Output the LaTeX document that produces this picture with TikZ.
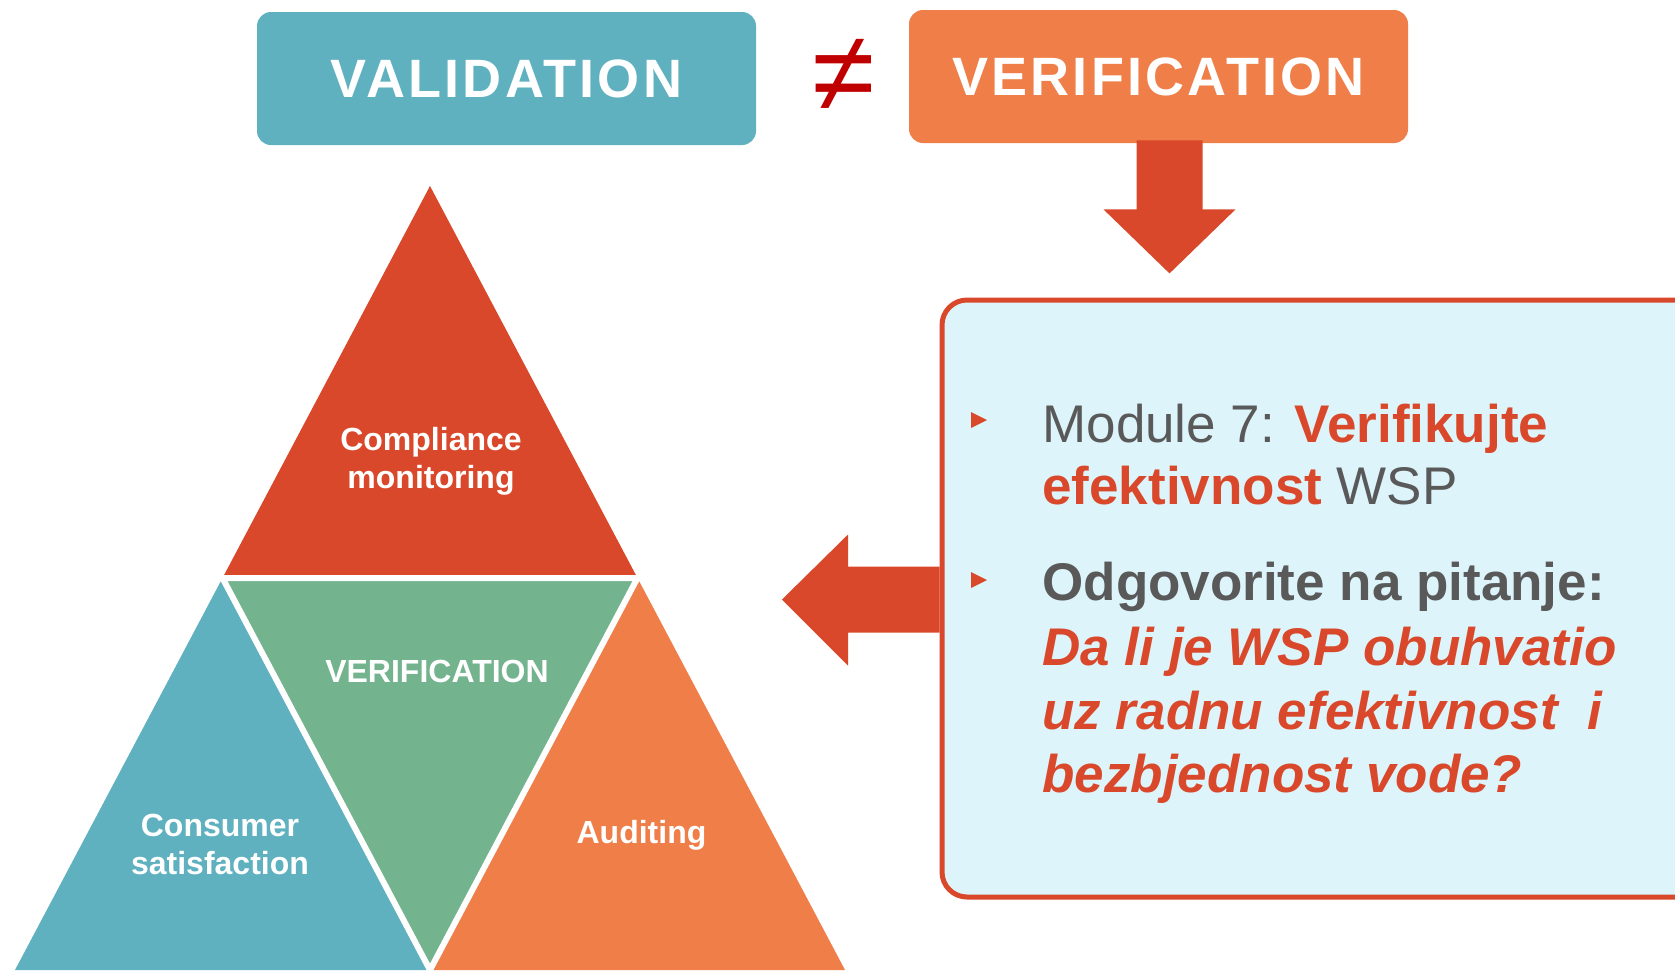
\documentclass[tikz,border=0pt]{standalone}
\usepackage{fontspec}
\setmainfont{Liberation Sans}
\usetikzlibrary{calc}
\definecolor{tealbox}{RGB}{95,177,192}
\definecolor{orangebox}{RGB}{239,126,72}
\definecolor{redbox}{RGB}{217,72,42}
\definecolor{greentri}{RGB}{115,179,141}
\definecolor{neqred}{RGB}{192,0,0}
\definecolor{paleblue}{RGB}{220,244,250}
\definecolor{textgray}{RGB}{89,89,89}

\begin{document}
\begin{tikzpicture}[x=0.5pt, y=-0.5pt]
   \useasboundingbox (0,0) rectangle (1675,970);
   \clip (0,0) rectangle (1675,970);
   \tikzset{TitleStyle/.style={fill=#1, rounded corners=7pt, minimum width=249.5pt, minimum height=66.5pt, inner sep=0pt, text=white, font={\fontsize{27}{32}\selectfont\bfseries\addfontfeatures{LetterSpace=6}}}}
   \tikzset{BoxStyle/.style={draw=redbox, line width=2.5pt, fill=paleblue, rounded corners=12.5pt, minimum width=400pt, minimum height=298.5pt, inner sep=0pt}}
   \tikzset{LineStyle/.style={anchor=base west, inner sep=0pt, text=textgray, font=\fontsize{26.5}{32}\selectfont}}
   \tikzset{TriStyle/.style={text=white, align=center, font=\fontsize{16}{19}\selectfont\bfseries}}
   \node[TitleStyle=tealbox] (validation) at (506.5,78.5) {VALIDATION};
   \node[TitleStyle=orangebox] (verification) at (1158.5,76.5) {VERIFICATION};
   \node[anchor=base, text=neqred, font=\fontsize{57}{60}\selectfont] (neq) at (844,111) {≠};
   \fill[redbox] (verification.south) ++(-22,-3) -- ++(66,0) -- ++(0,69) -- ++(33,0) -- ++(-66,64) -- ++(-66,-64) -- ++(33,0) -- cycle;
   \node[BoxStyle, anchor=north west] (info) at (939.5,297.5) {};
   \fill[redbox] (info.west) ++(0,-32) -- ++(-91.5,0) -- ++(0,-32) -- ++(-66,65) -- ++(66,66) -- ++(0,-33) -- ++(91.5,0) -- cycle;
   \foreach \y in {420,580} \fill[redbox] (971,\y-8) -- (987,\y) -- (971,\y+8) -- cycle;
   \node[LineStyle] (line1) at (1042,442) {Module 7: \textbf{\color{redbox}Verifikujte}};
   \node[LineStyle] (line2) at (1042,504) {\textbf{\color{redbox}efektivnost} WSP};
   \node[LineStyle] (line3) at (1042,600) {\textbf{Odgovorite na pitanje:}};
   \node[LineStyle, text=redbox] (line4) at (1042,665) {\textbf{\textit{Da li je WSP obuhvatio}}};
   \node[LineStyle, text=redbox] (line5) at (1042,729) {\textbf{\textit{uz radnu efektivnost\ \ i}}};
   \node[LineStyle, text=redbox] (line6) at (1042,792) {\textbf{\textit{bezbjednost vode?}}};
   \coordinate (top) at (430,186);
   \coordinate (left) at (15,970);
   \coordinate (right) at (845,970);
   \coordinate (ml) at ($(top)!0.5!(left)$);
   \coordinate (mr) at ($(top)!0.5!(right)$);
   \coordinate (mb) at ($(left)!0.5!(right)$);
   \fill[redbox] (top) -- (ml) -- (mr) -- cycle;
   \fill[tealbox] (ml) -- (left) -- (mb) -- cycle;
   \fill[orangebox] (mr) -- (mb) -- (right) -- cycle;
   \fill[greentri] (ml) -- (mr) -- (mb) -- cycle;
   \draw[white, line width=3pt] (ml) -- (mr) -- (mb) -- cycle;
   \node[TriStyle] (compliance) at (431,461) {Compliance\\monitoring};
   \node[TriStyle] (verif) at (437,671) {VERIFICATION};
   \node[TriStyle] (consumer) at (220,844) {Consumer\\satisfaction};
   \node[TriStyle] (auditing) at (641.5,835) {Auditing};
\end{tikzpicture}
\end{document}
